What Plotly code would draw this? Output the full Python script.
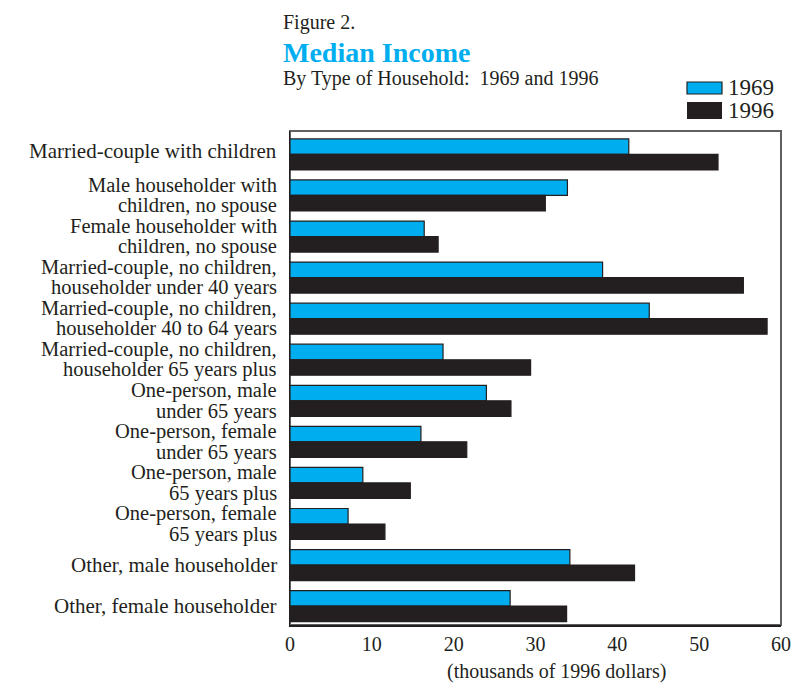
import plotly.graph_objects as go

categories = [
    "Married-couple with children",
    "Male householder with<br>children, no spouse",
    "Female householder with<br>children, no spouse",
    "Married-couple, no children,<br>householder under 40 years",
    "Married-couple, no children,<br>householder 40 to 64 years",
    "Married-couple, no children,<br>householder 65 years plus",
    "One-person, male<br>under 65 years",
    "One-person, female<br>under 65 years",
    "One-person, male<br>65 years plus",
    "One-person, female<br>65 years plus",
    "Other, male householder",
    "Other, female householder",
]
values_1969 = [41.4, 33.9, 16.4, 38.2, 43.9, 18.7, 24.0, 16.0, 8.9, 7.1, 34.2, 26.9]
values_1996 = [52.3, 31.2, 18.1, 55.4, 58.3, 29.4, 27.0, 21.6, 14.7, 11.6, 42.1, 33.8]
x_ticks = [0, 10, 20, 30, 40, 50, 60]

TXT = "#231f20"
BLUE = "#00aeef"
DARK = "#231f20"
SERIF = "Liberation Serif, Times New Roman, serif"

pos = list(range(len(categories)))

fig = go.Figure()
fig.add_trace(go.Bar(x=values_1969, y=pos, orientation="h", name="1969",
                     marker=dict(color=BLUE, line=dict(color=DARK, width=1.2))))
fig.add_trace(go.Bar(x=values_1996, y=pos, orientation="h", name="1996",
                     marker=dict(color=DARK, line=dict(color=DARK, width=1.2))))

annotations = []
for i, lab in enumerate(categories):
    lines = lab.split("<br>")
    if len(lines) == 1:
        shifts = [3] if i == 0 else [0]
    else:
        shifts = [10.25, -10.25]
    for ln, sh in zip(lines, shifts):
        annotations.append(dict(
            x=0, xref="paper", xanchor="right", xshift=-11,
            y=i, yref="y", yanchor="middle", yshift=sh,
            text=ln, showarrow=False,
            font=dict(family=SERIF, size=21 if len(lines) == 1 else 20.5, color=TXT)))

# titles
annotations += [
    dict(x=281, y=683 - 22, xref="paper", yref="paper", text="Figure 2.", showarrow=False,
         xanchor="left", yanchor="middle", font=dict(family=SERIF, size=20, color=TXT)),
    dict(x=281, y=683 - 52, xref="paper", yref="paper", text="<b>Median Income</b>", showarrow=False,
         xanchor="left", yanchor="middle", font=dict(family=SERIF, size=28, color=BLUE)),
    dict(x=281, y=683 - 79, xref="paper", yref="paper", text="By Type of Household:  1969 and 1996",
         showarrow=False, xanchor="left", yanchor="middle",
         font=dict(family=SERIF, size=20, color=TXT)),
    dict(x=726, y=683 - 88, xref="paper", yref="paper", text="1969", showarrow=False,
         xanchor="left", yanchor="middle", font=dict(family=SERIF, size=23, color=TXT)),
    dict(x=726, y=683 - 110, xref="paper", yref="paper", text="1996", showarrow=False,
         xanchor="left", yanchor="middle", font=dict(family=SERIF, size=23, color=TXT)),
    dict(x=556, y=683 - 671, xref="paper", yref="paper", text="(thousands of 1996 dollars)",
         showarrow=False, xanchor="center", yanchor="middle",
         font=dict(family=SERIF, size=20, color=TXT)),
]

# convert pixel-positioned paper annotations into paper fractions
L, R, T, B = 290, 15, 131, 58
W, H = 796, 683
pw, ph = W - L - R, H - T - B
for a in annotations:
    if a.get("xref") == "paper" and a.get("yref") == "paper":
        a["x"] = (a["x"] - L) / pw
        a["y"] = (a["y"] - B) / ph

def px2paper(x, y):
    return (x - L) / pw, ((H - y) - B) / ph

shapes = []
# legend boxes
x0, y0 = px2paper(687, 82)
x1, y1 = px2paper(722, 94)
shapes.append(dict(type="rect", xref="paper", yref="paper", x0=x0, x1=x1, y0=y1, y1=y0,
                   fillcolor=BLUE, line=dict(color=DARK, width=1.2)))
x0, y0 = px2paper(687, 102)
x1, y1 = px2paper(722, 119)
shapes.append(dict(type="rect", xref="paper", yref="paper", x0=x0, x1=x1, y0=y1, y1=y0,
                   fillcolor=DARK, line=dict(color=DARK, width=0)))
# plot frame (top/right grey)
shapes.append(dict(type="rect", xref="paper", yref="paper", x0=0, x1=1, y0=0, y1=1,
                   line=dict(color="#606060", width=2), layer="below"))

fig.update_layout(
    width=W, height=H,
    margin=dict(l=L, r=R, t=T, b=B, autoexpand=False),
    paper_bgcolor="white", plot_bgcolor="white",
    barmode="group", bargap=0.245, bargroupgap=0.0,
    showlegend=False,
    annotations=annotations,
    shapes=shapes,
    xaxis=dict(range=[0, 60], tickvals=x_ticks, ticktext=[str(t) for t in x_ticks],
               showgrid=False, zeroline=False, ticks="", automargin=False,
               ticklabeloverflow="allow",
               showline=True, linecolor=DARK, linewidth=1.5,
               tickfont=dict(family=SERIF, size=20, color=TXT)),
    yaxis=dict(range=[11.46, -0.57], showticklabels=False, showgrid=False, zeroline=False,
               automargin=False,
               ticks="", showline=True, linecolor=DARK, linewidth=1),
)

fig.write_html("out.html", config={"displayModeBar": False},
               post_script="document.body.style.margin='0';document.body.style.overflow='hidden';")
